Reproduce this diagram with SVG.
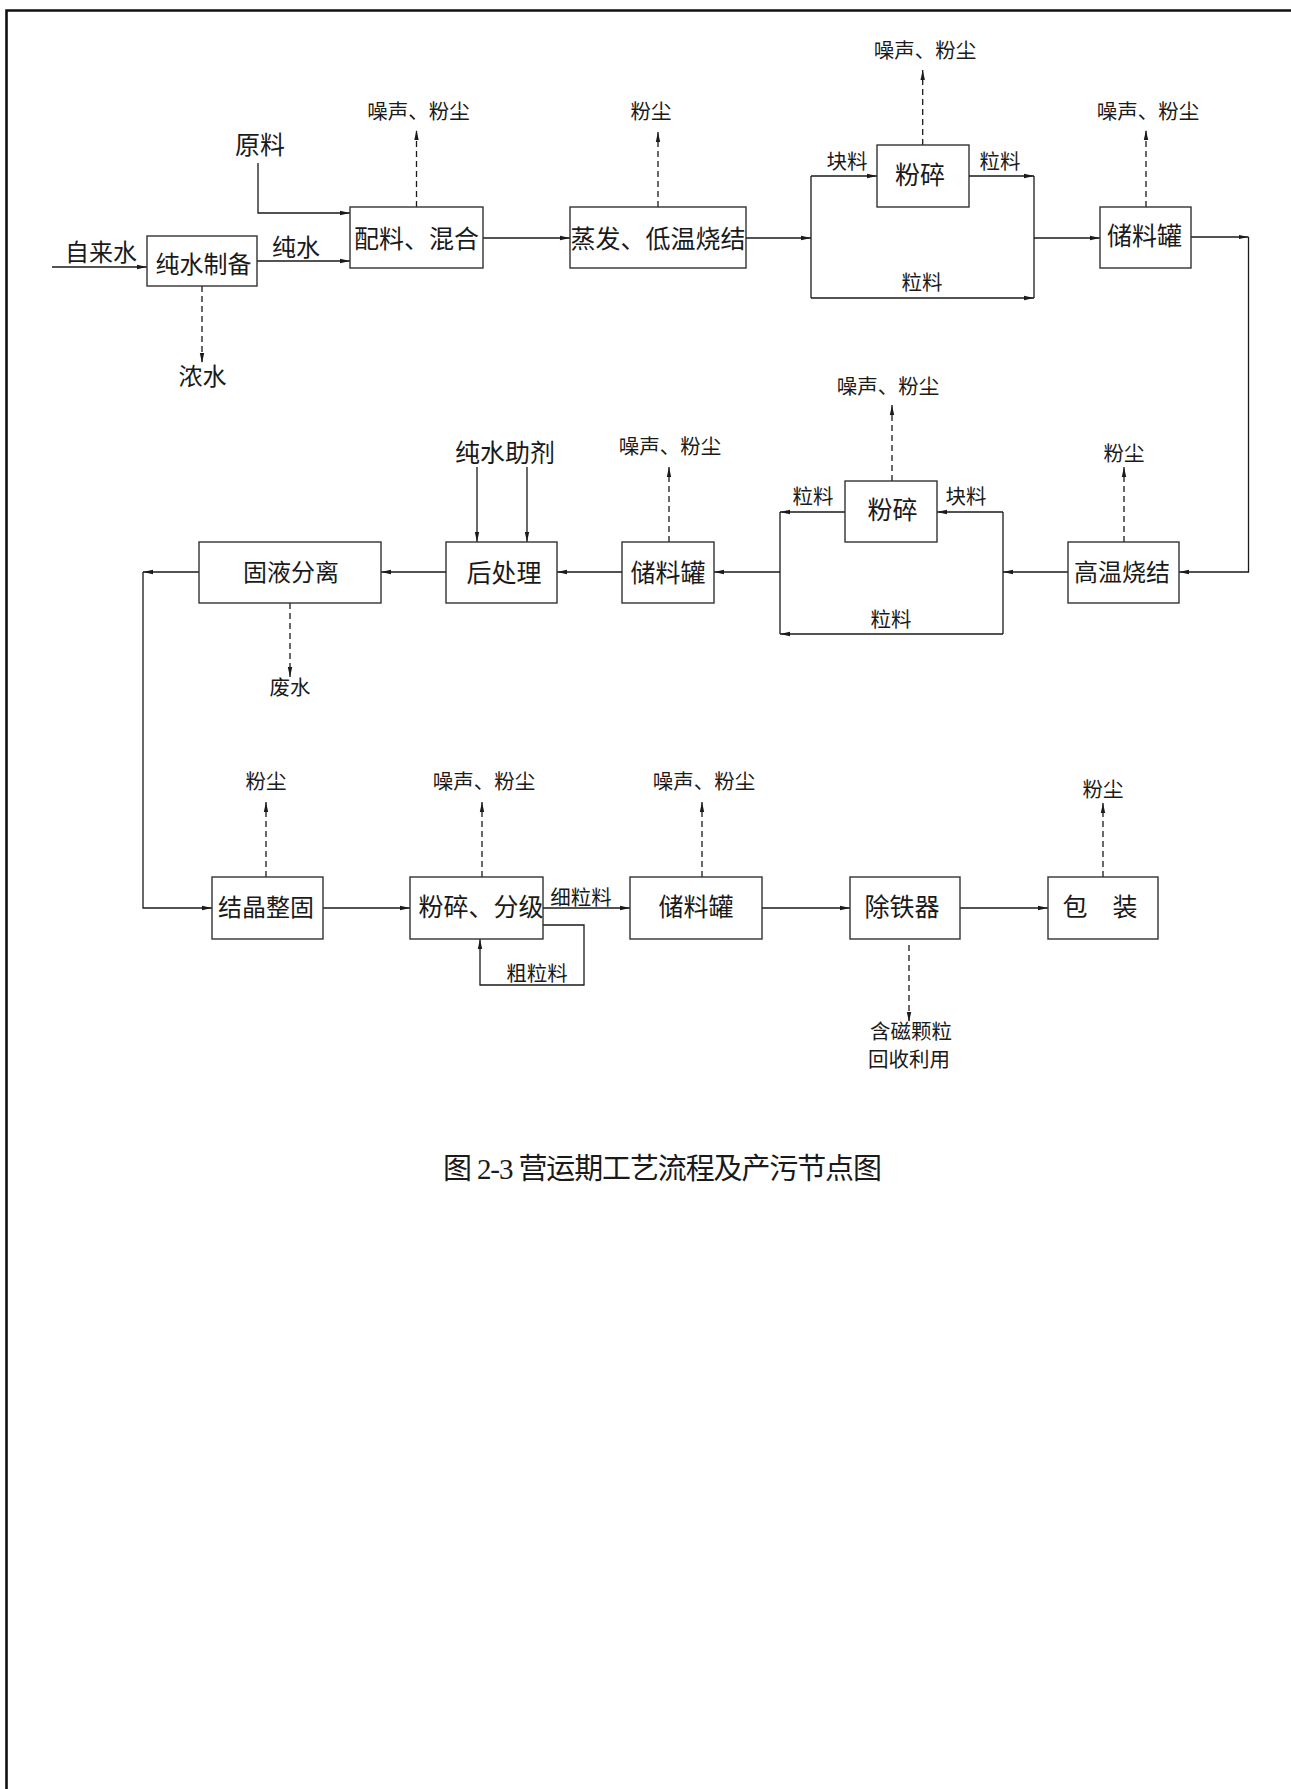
<svg xmlns="http://www.w3.org/2000/svg" width="1291" height="1789" viewBox="0 0 1291 1789">
<style>
text{font-family:"Liberation Serif","Noto Sans CJK SC",sans-serif;fill:#1a1a1a;text-anchor:middle}
.b{fill:#fff;stroke:#333;stroke-width:1.4}
.l{fill:none;stroke:#1a1a1a;stroke-width:1.3}
.a{marker-end:url(#ah)}
.d{stroke-dasharray:6 4}
.f25{font-size:25px}.f24{font-size:24px}.f20{font-size:20.5px}
</style>
<defs>
<marker id="ah" markerUnits="userSpaceOnUse" markerWidth="10" markerHeight="6" viewBox="0 0 10 6" refX="10" refY="3" orient="auto">
<path d="M0,0.8 L10,3 L0,5.2 z" fill="#1a1a1a"/>
</marker>
</defs>
<rect width="1291" height="1789" fill="#fff"/>
<g id="frame"><path d="M6.5,1789 V10.5 H1291" fill="none" stroke="#111" stroke-width="2.6"/></g>

<g id="connectors">
<path class="l a" d="M52,267 H147"/>
<path class="l a" d="M257,261 H350"/>
<path class="l a" d="M258,163 V213 H350"/>
<path class="l a d" d="M416.5,207 V130"/>
<path class="l a d" d="M202,286 V363"/>
<path class="l a" d="M483,238 H570"/>
<path class="l a d" d="M658,207 V132"/>
<path class="l a" d="M746,238 H811"/>
<path class="l" d="M811,176 V298"/>
<path class="l a" d="M811,176 H877"/>
<path class="l a" d="M969,176 H1034"/>
<path class="l a" d="M811,298 H1034"/>
<path class="l" d="M1034,176 V298"/>
<path class="l a" d="M1034,238 H1100"/>
<path class="l a d" d="M922.7,145 V70"/>
<path class="l a d" d="M1146,207 V130"/>
<path class="l a" d="M1191,237 H1248.5"/>
<path class="l a" d="M1248.5,237 V572 H1179"/>
<path class="l a d" d="M1124,542 V467"/>
<path class="l a" d="M1068,572 H1003"/>
<path class="l" d="M1003,512 V634"/>
<path class="l a" d="M1003,512 H937"/>
<path class="l a" d="M1003,634 H780"/>
<path class="l a" d="M845,512 H780"/>
<path class="l" d="M780,512 V634"/>
<path class="l a" d="M780,572 H714"/>
<path class="l a d" d="M892,481 V405"/>
<path class="l a d" d="M669,542 V467"/>
<path class="l a" d="M622,572 H557"/>
<path class="l a" d="M477,467 V542"/>
<path class="l a" d="M527,467 V542"/>
<path class="l a" d="M446,572 H381"/>
<path class="l a" d="M199,572 H143"/>
<path class="l a" d="M143,572 V908 H212"/>
<path class="l a d" d="M290,603 V677"/>
<path class="l a d" d="M266,877 V802"/>
<path class="l a" d="M323,908 H410"/>
<path class="l a d" d="M482,877 V802"/>
<path class="l a" d="M543,908 H630"/>
<path class="l a" d="M543,925 H584 V985 H480 V939"/>
<path class="l a d" d="M702,877 V802"/>
<path class="l a" d="M762,908 H850"/>
<path class="l a" d="M960,908 H1048"/>
<path class="l a d" d="M1103,877 V803"/>
<path class="l a d" d="M909,945 V1022"/>
</g>

<g id="labels">
<text class="f24" x="101" y="261">自来水</text>
<text class="f24" x="296" y="256">纯水</text>
<text class="f25" x="260" y="153.5">原料</text>
<text class="f20" x="418.5" y="119">噪声、粉尘</text>
<text class="f24" x="202.5" y="385">浓水</text>
<text class="f20" x="651" y="119">粉尘</text>
<text class="f20" x="847" y="168.5">块料</text>
<text class="f20" x="1000" y="168.5">粒料</text>
<text class="f20" x="922" y="290">粒料</text>
<text class="f20" x="925" y="58">噪声、粉尘</text>
<text class="f20" x="1148" y="119">噪声、粉尘</text>
<text class="f20" x="888" y="394">噪声、粉尘</text>
<text class="f20" x="813" y="504">粒料</text>
<text class="f20" x="966" y="504">块料</text>
<text class="f20" x="891" y="627">粒料</text>
<text class="f20" x="1124" y="460.5">粉尘</text>
<text class="f20" x="670" y="454">噪声、粉尘</text>
<text class="f25" x="505" y="462">纯水助剂</text>
<text class="f20" x="290" y="695">废水</text>
<text class="f20" x="266" y="789">粉尘</text>
<text class="f20" x="484" y="789">噪声、粉尘</text>
<text class="f20" x="581" y="905">细粒料</text>
<text class="f20" x="537" y="981">粗粒料</text>
<text class="f20" x="704" y="789">噪声、粉尘</text>
<text class="f20" x="1103" y="797">粉尘</text>
<text class="f20" x="911" y="1039">含磁颗粒</text>
<text class="f20" x="909" y="1067">回收利用</text>
<text x="662.5" y="1178.5" font-size="29" textLength="439" lengthAdjust="spacing">图 2-3 营运期工艺流程及产污节点图</text>
</g>

<g id="node-chunshui"><rect class="b" x="147" y="236" width="110" height="50"/><text class="f24" x="203.5" y="273">纯水制备</text></g>
<g id="node-peiliao"><rect class="b" x="350" y="207" width="133" height="61"/><text class="f25" x="416.5" y="247.5">配料、混合</text></g>
<g id="node-zhengfa"><rect class="b" x="570" y="207" width="176" height="61"/><text class="f25" x="658" y="247.5">蒸发、低温烧结</text></g>
<g id="node-fensui1"><rect class="b" x="877" y="145" width="92" height="62"/><text class="f25" x="920" y="183.5">粉碎</text></g>
<g id="node-chuliao1"><rect class="b" x="1100" y="207" width="91" height="61"/><text class="f25" x="1144.5" y="244.5">储料罐</text></g>
<g id="node-gaowen"><rect class="b" x="1068" y="542" width="111" height="61"/><text class="f24" x="1122" y="581">高温烧结</text></g>
<g id="node-fensui2"><rect class="b" x="845" y="481" width="92" height="61"/><text class="f25" x="892.5" y="518.5">粉碎</text></g>
<g id="node-chuliao2"><rect class="b" x="622" y="542" width="92" height="61"/><text class="f25" x="668" y="581.5">储料罐</text></g>
<g id="node-houchuli"><rect class="b" x="446" y="542" width="111" height="61"/><text class="f25" x="504" y="581.5">后处理</text></g>
<g id="node-guye"><rect class="b" x="199" y="542" width="182" height="61"/><text class="f24" x="291" y="581">固液分离</text></g>
<g id="node-jiejing"><rect class="b" x="212" y="877" width="111" height="62"/><text class="f24" x="266" y="916">结晶整固</text></g>
<g id="node-fenji"><rect class="b" x="410" y="877" width="133" height="62"/><text class="f25" x="481" y="916">粉碎、分级</text></g>
<g id="node-chuliao3"><rect class="b" x="630" y="877" width="132" height="62"/><text class="f25" x="696" y="916">储料罐</text></g>
<g id="node-chutie"><rect class="b" x="850" y="877" width="110" height="62"/><text class="f25" x="902" y="916">除铁器</text></g>
<g id="node-baozhuang"><rect class="b" x="1048" y="877" width="110" height="62"/><text class="f25" x="1100" y="916">包　装</text></g>
</svg>
